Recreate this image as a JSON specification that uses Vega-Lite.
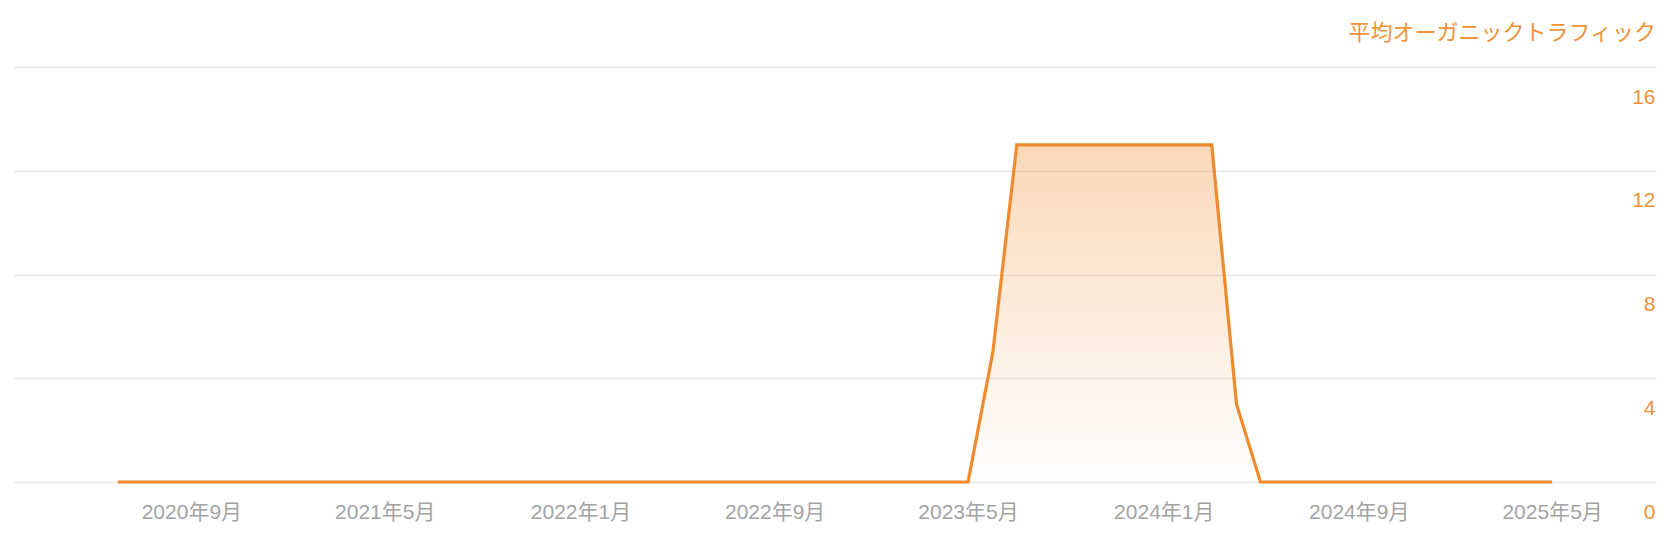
{
  "$schema": "https://vega.github.io/schema/vega-lite/v6.json",
  "width": 1642,
  "height": 415,
  "autosize": {"type": "none"},
  "padding": {"left": 14, "top": 67, "right": 22, "bottom": 66},
  "background": "#ffffff",
  "title": {
    "text": "平均オーガニックトラフィック",
    "anchor": "end",
    "orient": "top",
    "offset": 22,
    "fontSize": 22,
    "fontWeight": "normal",
    "color": "#F0923A",
    "font": "Liberation Sans, Noto Sans CJK JP"
  },
  "config": {
    "view": {"stroke": null},
    "font": "Liberation Sans, Noto Sans CJK JP"
  },
  "data": {
    "values": [
      {"month": "2020-06-01", "traffic": 0},
      {"month": "2020-07-01", "traffic": 0},
      {"month": "2020-08-01", "traffic": 0},
      {"month": "2020-09-01", "traffic": 0},
      {"month": "2020-10-01", "traffic": 0},
      {"month": "2020-11-01", "traffic": 0},
      {"month": "2020-12-01", "traffic": 0},
      {"month": "2021-01-01", "traffic": 0},
      {"month": "2021-02-01", "traffic": 0},
      {"month": "2021-03-01", "traffic": 0},
      {"month": "2021-04-01", "traffic": 0},
      {"month": "2021-05-01", "traffic": 0},
      {"month": "2021-06-01", "traffic": 0},
      {"month": "2021-07-01", "traffic": 0},
      {"month": "2021-08-01", "traffic": 0},
      {"month": "2021-09-01", "traffic": 0},
      {"month": "2021-10-01", "traffic": 0},
      {"month": "2021-11-01", "traffic": 0},
      {"month": "2021-12-01", "traffic": 0},
      {"month": "2022-01-01", "traffic": 0},
      {"month": "2022-02-01", "traffic": 0},
      {"month": "2022-03-01", "traffic": 0},
      {"month": "2022-04-01", "traffic": 0},
      {"month": "2022-05-01", "traffic": 0},
      {"month": "2022-06-01", "traffic": 0},
      {"month": "2022-07-01", "traffic": 0},
      {"month": "2022-08-01", "traffic": 0},
      {"month": "2022-09-01", "traffic": 0},
      {"month": "2022-10-01", "traffic": 0},
      {"month": "2022-11-01", "traffic": 0},
      {"month": "2022-12-01", "traffic": 0},
      {"month": "2023-01-01", "traffic": 0},
      {"month": "2023-02-01", "traffic": 0},
      {"month": "2023-03-01", "traffic": 0},
      {"month": "2023-04-01", "traffic": 0},
      {"month": "2023-05-01", "traffic": 0},
      {"month": "2023-06-01", "traffic": 5},
      {"month": "2023-07-01", "traffic": 13},
      {"month": "2023-08-01", "traffic": 13},
      {"month": "2023-09-01", "traffic": 13},
      {"month": "2023-10-01", "traffic": 13},
      {"month": "2023-11-01", "traffic": 13},
      {"month": "2023-12-01", "traffic": 13},
      {"month": "2024-01-01", "traffic": 13},
      {"month": "2024-02-01", "traffic": 13},
      {"month": "2024-03-01", "traffic": 13},
      {"month": "2024-04-01", "traffic": 3},
      {"month": "2024-05-01", "traffic": 0},
      {"month": "2024-06-01", "traffic": 0},
      {"month": "2024-07-01", "traffic": 0},
      {"month": "2024-08-01", "traffic": 0},
      {"month": "2024-09-01", "traffic": 0},
      {"month": "2024-10-01", "traffic": 0},
      {"month": "2024-11-01", "traffic": 0},
      {"month": "2024-12-01", "traffic": 0},
      {"month": "2025-01-01", "traffic": 0},
      {"month": "2025-02-01", "traffic": 0},
      {"month": "2025-03-01", "traffic": 0},
      {"month": "2025-04-01", "traffic": 0},
      {"month": "2025-05-01", "traffic": 0}
    ]
  },
  "encoding": {
    "x": {
      "field": "month",
      "type": "temporal",
      "scale": {
        "type": "utc",
        "domain": [
          {"year": 2020, "month": 1, "date": 23, "utc": true},
          {"year": 2025, "month": 9, "date": 8, "utc": true}
        ],
        "nice": false
      },
      "axis": {
        "title": null,
        "values": [
          {"year": 2020, "month": 9, "date": 1, "utc": true},
          {"year": 2021, "month": 5, "date": 1, "utc": true},
          {"year": 2022, "month": 1, "date": 1, "utc": true},
          {"year": 2022, "month": 9, "date": 1, "utc": true},
          {"year": 2023, "month": 5, "date": 1, "utc": true},
          {"year": 2024, "month": 1, "date": 1, "utc": true},
          {"year": 2024, "month": 9, "date": 1, "utc": true},
          {"year": 2025, "month": 5, "date": 1, "utc": true}
        ],
        "labelExpr": "utcFormat(datum.value, '%Y年%-m月')",
        "grid": false,
        "domain": false,
        "ticks": false,
        "labelFlush": false,
        "labelOverlap": false,
        "labelPadding": 19,
        "labelFontSize": 21,
        "labelColor": "#A3A3A3"
      }
    },
    "y": {
      "field": "traffic",
      "type": "quantitative",
      "scale": {"domain": [0, 16], "nice": false, "zero": true},
      "axis": {
        "title": null,
        "orient": "right",
        "values": [0, 4, 8, 12, 16],
        "grid": true,
        "gridColor": "#E6E6E6",
        "gridWidth": 1.5,
        "domain": false,
        "ticks": false,
        "tickSize": 0,
        "labelAlign": "right",
        "labelPadding": -1,
        "labelOffset": 30,
        "labelFlush": false,
        "labelOverlap": false,
        "labelFontSize": 21,
        "labelColor": "#F0923A"
      }
    }
  },
  "layer": [
    {
      "mark": {
        "type": "area",
        "fill": {
          "gradient": "linear",
          "x1": 0, "y1": 0, "x2": 0, "y2": 1,
          "stops": [
            {"offset": 0, "color": "rgba(240,138,42,0.33)"},
            {"offset": 1, "color": "rgba(240,138,42,0.0)"}
          ]
        }
      }
    },
    {
      "mark": {"type": "line", "color": "#EF8A2D", "strokeWidth": 3.2, "strokeJoin": "miter"}
    }
  ]
}
